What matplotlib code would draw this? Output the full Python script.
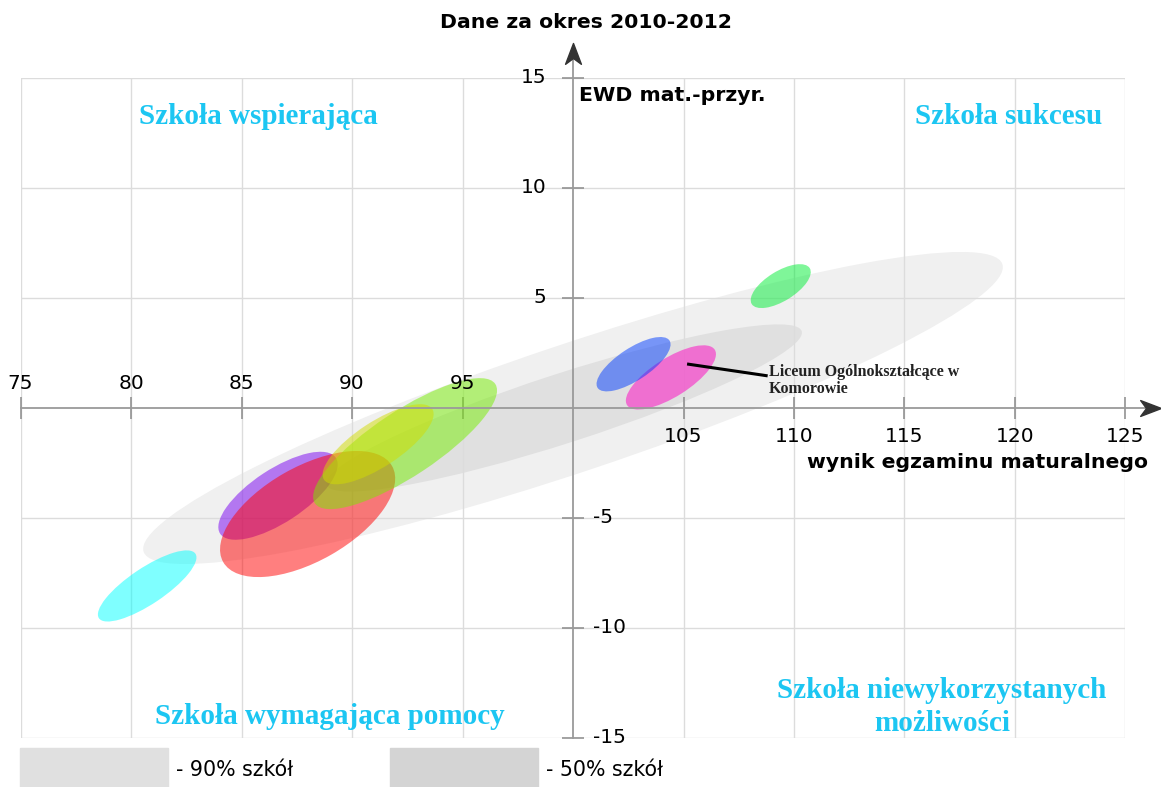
import matplotlib.pyplot as plt
from matplotlib.patches import Ellipse, Rectangle
from matplotlib.path import Path

# grey bands: 90% and 50% of schools
band_labels = ['- 90% szkół', '- 50% szkół']
band_x = [100.0, 99.6]
band_y = [0.0, 0.0]
band_w = [41.0, 22.6]
band_h = [5.8, 3.15]
band_angle = [18.6, 18.0]
band_colors = ['#f0f0f0', '#e0e0e0']
legend_colors = ['#e0e0e0', '#d4d4d4']

# school ellipses (drawing order matters for the overlaps)
school_x = [80.73, 86.65, 87.99, 92.4, 91.18, 104.43, 102.74, 109.4]
school_y = [-8.09, -3.99, -4.82, -1.62, -1.65, 1.39, 1.99, 5.54]
school_w = [5.26, 6.27, 8.8, 9.8, 5.86, 4.7, 3.9, 3.09]
school_h = [1.64, 2.42, 4.27, 2.95, 2.04, 1.75, 1.46, 1.35]
school_angle = [33.9, 33.4, 29.8, 33.6, 33.3, 32.4, 33.5, 31.9]
school_colors = ['#00ffff', '#7800f0', '#ff0000', '#76ee00', '#d2dc00',
                 '#ff00c2', '#003cff', '#00ee35']

xticks = [75, 80, 85, 90, 95, 105, 110, 115, 120, 125]
yticks = [-15, -10, -5, 5, 10, 15]

quadrants = ['Szkoła wspierająca', 'Szkoła sukcesu',
             'Szkoła wymagająca pomocy', 'Szkoła niewykorzystanych\nmożliwości']

school_name = 'Liceum Ogólnokształcące w\nKomorowie'

fig = plt.figure(figsize=(11.61, 7.87), dpi=100)
ax = fig.add_axes([0.0177, 0.0623, 0.9517, 0.8386])
ax.set_xlim(75, 125)
ax.set_ylim(-15, 15)

ax.set_xticks(xticks)
ax.set_yticks(yticks)
ax.grid(True, color='#dcdcdc', lw=1, zorder=1.5)
ax.set_axisbelow('line')
ax.tick_params(direction='inout', length=16, width=1.1, color='#8a8a8a',
               labelbottom=False, labelleft=False)

for s in ['top', 'right']:
    ax.spines[s].set_visible(False)
ax.spines['left'].set_position(('data', 100))
ax.spines['bottom'].set_position(('data', 0))
ax.spines['left'].set_color('#9a9a9a')
ax.spines['bottom'].set_color('#9a9a9a')
ax.spines['left'].set_linewidth(1.3)
ax.spines['bottom'].set_linewidth(1.3)

# axis extensions + arrow heads
ax.plot([125, 126.2], [0, 0], color='#9a9a9a', lw=1.3, clip_on=False)
ax.plot([100, 100], [15, 16.2], color='#9a9a9a', lw=1.3, clip_on=False)
right_head = Path([(0, 0), (-1, 0.38), (-0.72, 0), (-1, -0.38), (0, 0)],
                  [Path.MOVETO, Path.LINETO, Path.LINETO, Path.LINETO, Path.CLOSEPOLY])
up_head = Path([(0, 0), (-0.38, -1), (0, -0.72), (0.38, -1), (0, 0)],
               [Path.MOVETO, Path.LINETO, Path.LINETO, Path.LINETO, Path.CLOSEPOLY])
ax.plot(126.6, 0, marker=right_head, ms=30, color='#333333', clip_on=False)
ax.plot(100, 16.6, marker=up_head, ms=30, color='#333333', clip_on=False)

# tick labels on both sides of the axes
for t in xticks:
    if t < 100:
        ax.annotate(str(t), (t, 0), xytext=(0, 11), textcoords='offset points',
                    ha='center', va='bottom', fontsize=14.5)
    else:
        ax.annotate(str(t), (t, 0), xytext=(0, -14), textcoords='offset points',
                    ha='center', va='top', fontsize=14.5)
for t in yticks:
    if t > 0:
        ax.annotate(str(t), (100, t), xytext=(-19, 0), textcoords='offset points',
                    ha='right', va='center', fontsize=14.5)
    else:
        ax.annotate(str(t), (100, t), xytext=(14.5, 0), textcoords='offset points',
                    ha='left', va='center', fontsize=14.5)

for i in range(len(band_x)):
    ax.add_patch(Ellipse((band_x[i], band_y[i]), band_w[i], band_h[i],
                         angle=band_angle[i], color=band_colors[i], lw=0, zorder=1))

for i in range(len(school_x)):
    ax.add_patch(Ellipse((school_x[i], school_y[i]), school_w[i], school_h[i],
                         angle=school_angle[i], facecolor=school_colors[i],
                         edgecolor='none', alpha=0.5, zorder=2))

# pointer to the school
ax.plot([105.23, 108.74], [1.99, 1.47], color='black', lw=2.2, zorder=3)
ax.text(108.87, 2.0, school_name, ha='left', va='top', fontsize=11.5,
        family='Liberation Serif', weight='bold', color='#222222', linespacing=1.05)

qcol = '#1cc6f2'
qfont = dict(family='Liberation Serif', weight='bold', color=qcol, fontsize=21)
ax.text(0.215, 0.942, quadrants[0], transform=ax.transAxes, ha='center', va='center', **qfont)
ax.text(0.894, 0.942, quadrants[1], transform=ax.transAxes, ha='center', va='center', **qfont)
ax.text(0.280, 0.033, quadrants[2], transform=ax.transAxes, ha='center', va='center', **qfont)
ax.text(0.834, 0.047, quadrants[3], transform=ax.transAxes, ha='center', va='center',
        linespacing=1.3, **qfont)

fig.text(0.505, 0.972, 'Dane za okres 2010-2012', ha='center', va='center',
         fontsize=14.7, weight='bold')
ax.text(100.25, 14.2, 'EWD mat.-przyr.', ha='left', va='center', fontsize=14.7, weight='bold')
ax.text(126.0, -2.5, 'wynik egzaminu maturalnego', ha='right', va='center',
        fontsize=14.7, weight='bold', clip_on=False)

# legend boxes at the bottom
leg_x = [0.0172, 0.336]
for i in range(len(band_labels)):
    fig.patches.append(Rectangle((leg_x[i], 0.0), 0.1275, 0.0496,
                                 transform=fig.transFigure, color=legend_colors[i]))
    fig.text(leg_x[i] + 0.134, 0.0216, band_labels[i], ha='left', va='center', fontsize=14.8)

fig.savefig('out.png', dpi=100)
